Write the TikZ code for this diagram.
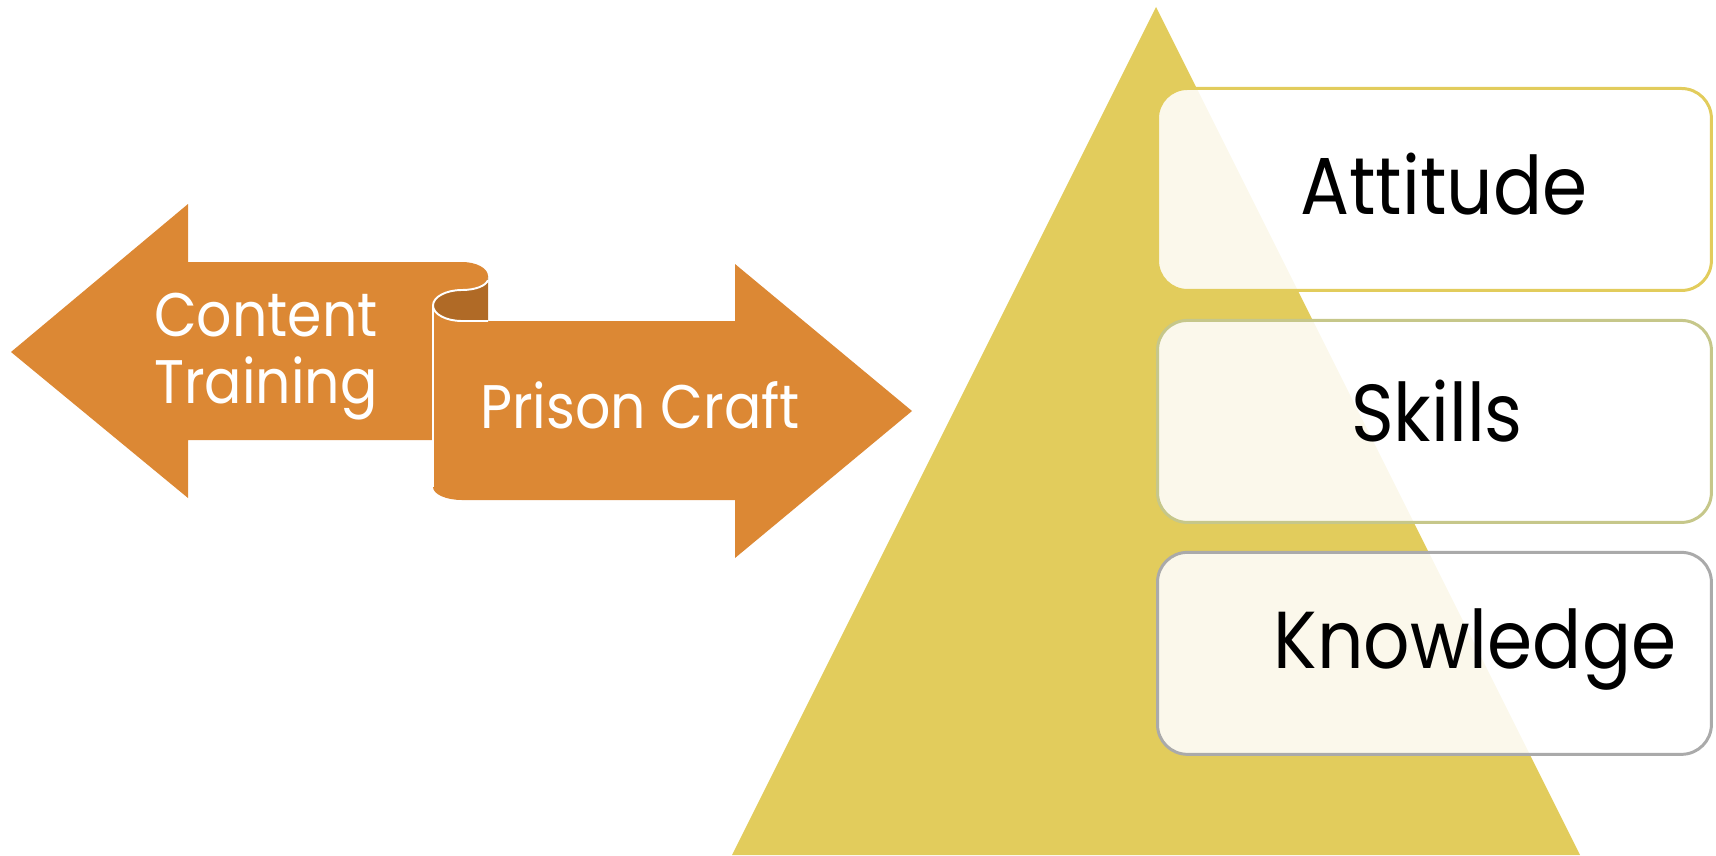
\documentclass[tikz,border=0pt]{standalone}
\usepackage{fontspec}
\setmainfont[FakeStretch=0.9]{Poppins}
\usetikzlibrary{positioning}
\definecolor{scrollorange}{HTML}{DC8834}
\definecolor{scrolldark}{HTML}{B06A26}
\definecolor{pyryellow}{HTML}{E2CC5C}
\definecolor{edgeolive}{HTML}{C6C78A}
\definecolor{edgegrey}{HTML}{AAAAAA}

\begin{document}
\begin{tikzpicture}[
  x=0.02cm, y=-0.02cm,
  rim/.style={draw=white, line width=1.1pt},
  tier/.style={draw, line width=1.7pt, fill=white, fill opacity=0.88,
    rounded corners=17pt, minimum width=11.08cm, minimum height=4.04cm},
  arrowtxt/.style={text=white, font=\fontsize{35}{38}\selectfont, anchor=base},
  tiertxt/.style={text=black, font=\fontsize{46}{50}\selectfont, anchor=base}
]
  \useasboundingbox (0,0) rectangle (1716,855);

  % pyramid
  \fill[pyryellow] (1156,7) -- (1580,855) -- (732,855) -- cycle;

  % tiers
  \node[tier, draw=pyryellow, anchor=north west] (att) at (1156,87) {};
  \node[tier, draw=edgeolive, below=0.54cm of att] (skl) {};
  \node[tier, draw=edgegrey, below=0.54cm of skl] (knw) {};
  \node[tiertxt] (attT) at (1444,214) {Attitude};
  \node[tiertxt] (sklT) at (1437,441) {Skills};
  \node[tiertxt] (knwT) at (1475,668) {Knowledge};

  % left arrow of the scroll
  \fill[scrollorange] (11,352) -- (188,204) -- (188,262) -- (462,262)
    .. controls (476.4,262) and (488,268.3) .. (488,276)
    .. controls (488,283.7) and (476.4,290) .. (462,290)
    .. controls (446,290) and (433,296.9) .. (433,305.5)
    -- (433,440) -- (188,440) -- (188,498) -- cycle;

  % inside of the roll
  \fill[scrolldark] (488,276)
    .. controls (488,283.7) and (476.4,290) .. (462,290)
    .. controls (446,290) and (433,296.9) .. (433,305.5)
    .. controls (433,314.1) and (446,321) .. (462,321)
    -- (488,321) -- cycle;

  % right arrow of the scroll
  \fill[scrollorange] (433,305.5) -- (433,487)
    .. controls (433,494.2) and (446,500) .. (462,500)
    -- (735,500) -- (735,558) -- (912,411) -- (735,264) -- (735,321)
    -- (462,321) .. controls (446,321) and (433,314.1) .. (433,305.5) -- cycle;
  \draw[rim] (488,280)
    .. controls (486,286) and (475,290) .. (462,290)
    .. controls (446,290) and (433,296.9) .. (433,305.5)
    .. controls (433,314.1) and (446,321) .. (462,321) -- (488,321);
  \draw[rim] (433,305.5) -- (433,487);

  \node[arrowtxt] (ctA) at (266,336) {Content};
  \node[arrowtxt] (ctB) at (266,403) {Training};
  \node[arrowtxt] (pc) at (640,428) {Prison Craft};
\end{tikzpicture}
\end{document}
